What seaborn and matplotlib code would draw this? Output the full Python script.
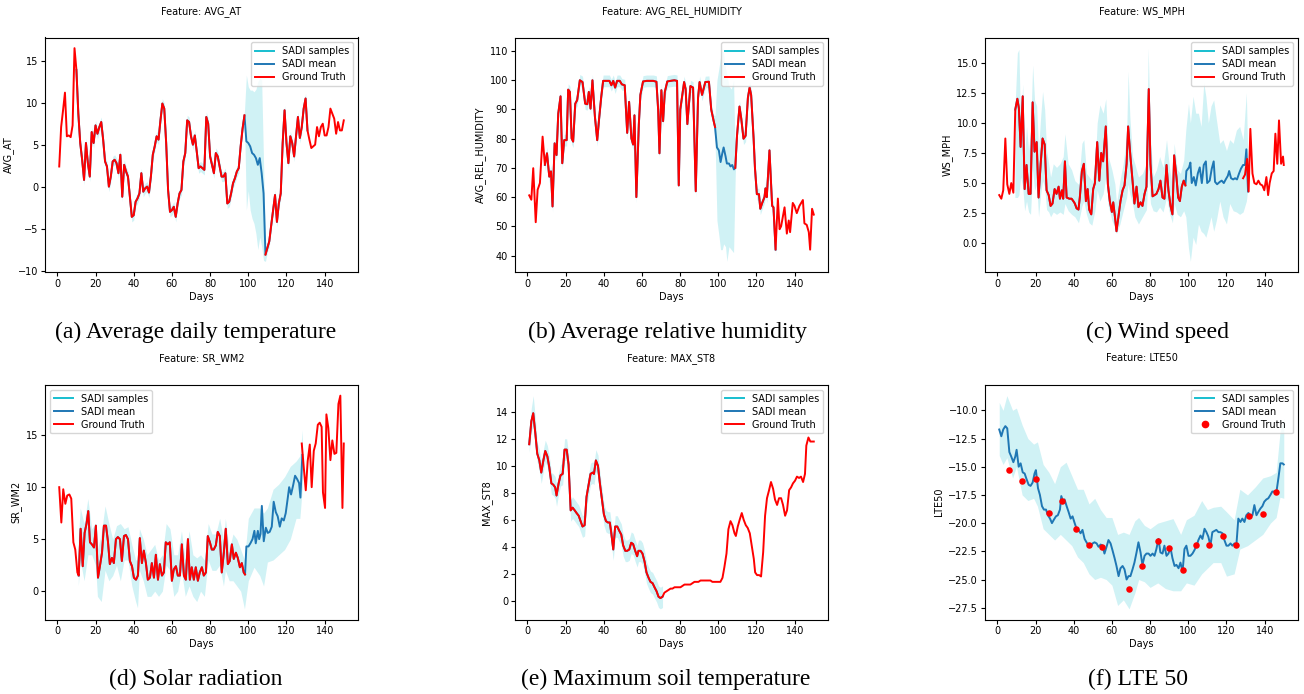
import numpy as np
import matplotlib
matplotlib.use("Agg")
import matplotlib.pyplot as plt
import seaborn as sns
from matplotlib.lines import Line2D
from matplotlib.ticker import MultipleLocator

# ---------------- data ----------------
# (a) AVG_AT
AT_DAYS_1 = list(range(1, 99))
AT_GT_1 = [2.4, 7.1, 9.1, 11.2, 6.0, 6.1, 5.9, 7.3, 16.5, 13.9,
           8.7, 5.2, 3.2, 0.8, 5.2, 2.8, 1.2, 6.5, 5.2, 7.3,
           6.3, 7.1, 7.7, 5.6, 3.0, 2.4, 0.0, 1.2, 3.0, 3.2,
           2.8, 1.6, 3.8, -1.2, 2.6, 1.8, 1.2, -1.2, -3.6, -3.4,
           -1.8, -1.4, -0.8, 1.6, -0.6, -0.2, 0.0, -0.7, 1.2, 3.8,
           4.8, 6.0, 5.6, 7.9, 9.9, 9.3, 5.2, -0.4, -3.0, -2.8,
           -2.4, -3.6, -2.0, -0.8, -0.4, 3.0, 4.0, 7.9, 7.7, 6.0,
           5.0, 6.1, 4.2, 2.2, 2.4, 2.2, 2.0, 8.3, 7.5, 3.6,
           2.6, 1.6, 4.0, 3.6, 2.4, 1.2, 1.2, 1.6, -2.0, -1.8,
           -0.8, 0.4, 1.0, 1.8, 2.2, 4.8, 6.9, 8.5]
AT_DAYS_2 = list(range(109, 151))
AT_GT_2 = [-8.1, -7.3, -6.5, -4.6, -2.8, -1.0, -4.2, -2.0, -0.8, 5.2,
           9.1, 5.2, 2.8, 6.0, 5.2, 3.6, 6.0, 8.3, 5.8, 7.1,
           9.3, 10.5, 6.7, 5.6, 4.6, 4.8, 5.0, 7.1, 6.0, 7.1,
           7.5, 6.1, 6.1, 7.1, 9.3, 8.7, 8.1, 6.3, 7.7, 6.7,
           6.7, 7.9]
AT_GAP_DAYS = list(range(99, 109))
AT_GAP_MEAN = [5.4, 5.2, 4.8, 4.0, 3.8, 3.4, 2.6, 3.4, 1.6, -0.8]
AT_BAND_DAYS = list(range(98, 111))
AT_BAND_LO = [8.0, -2.8, -0.5, -2.8, -3.8, -4.4, -5.6, -7.5, -6.0, -7.1, -8.8, -8.9, -7.8]
AT_BAND_HI = [9.0, 13.3, 11.9, 11.5, 11.5, 11.3, 11.6, 12.5, 12.9, 12.7, 2.8, -7.5, -6.8]
AT_SPREAD = 0.6

# (b) AVG_REL_HUMIDITY
RH_DAYS_1 = [1.0, 2.1, 3.1, 4.4, 5.4, 6.6, 8.0, 9.2, 10.3, 11.5,
             12.4, 13.2, 14.3, 15.3, 16.2, 17.4, 18.3, 19.3, 20.6, 21.4,
             22.3, 23.2, 24.0, 25.1, 26.1, 27.5, 28.9, 30.3, 31.4, 32.2,
             33.1, 34.1, 35.4, 36.6, 37.6, 38.7, 39.7, 41.0, 42.0, 43.0,
             44.0, 45.0, 46.0, 47.0, 48.4, 49.5, 51.0, 52.3, 53.3, 54.5,
             55.4, 56.1, 57.1, 58.4, 59.2, 60.6, 62.5, 64.5, 66.0, 67.6,
             68.5, 69.2, 70.2, 71.1, 72.0, 73.3, 75.0, 77.0, 78.4, 79.3,
             80.1, 82.1, 82.9, 83.8, 85.4, 86.8, 88.2, 89.4, 90.2, 91.5,
             93.2, 95.1, 96.3, 97.6, 98.3]
RH_GT_1 = [60.6, 59.1, 69.9, 51.4, 62.5, 64.8, 80.7, 71.0, 75.0, 67.0,
           68.8, 56.8, 78.4, 74.4, 88.6, 94.5, 71.6, 79.5, 79.5, 96.8,
           96.0, 80.1, 79.0, 92.0, 93.2, 100.0, 99.4, 92.0, 91.8, 96.0,
           90.3, 100.0, 87.5, 79.5, 86.9, 94.3, 99.8, 99.8, 99.8, 99.8,
           98.3, 99.8, 97.5, 99.8, 99.8, 98.6, 98.3, 82.0, 92.6, 80.1,
           78.0, 88.0, 60.0, 85.0, 95.0, 99.6, 99.8, 99.8, 99.8, 99.5,
           90.0, 75.0, 96.6, 86.0, 96.0, 99.6, 99.8, 100.0, 99.8, 64.0,
           90.0, 99.4, 97.0, 85.0, 98.0, 97.5, 62.0, 94.0, 99.4, 95.0,
           99.4, 99.5, 90.0, 86.0, 84.0]
RH_DAYS_2 = [108.9, 109.8, 111.1, 112.0, 113.2, 114.3, 115.5, 116.4, 117.2, 118.5,
             119.2, 120.2, 121.3, 122.0, 123.0, 124.2, 124.7, 125.4, 126.8, 128.2,
             128.9, 130.0, 131.2, 132.1, 132.9, 134.7, 135.9, 136.9, 137.6, 139.0,
             139.9, 141.1, 142.5, 144.3, 145.1, 146.3, 147.4, 148.1, 149.1, 150.0]
RH_GT_2 = [70, 81, 91, 87, 80, 81, 94, 97.5, 95, 80,
           70, 61, 61, 56, 58, 60, 63, 60, 76, 57,
           56.5, 42, 59.5, 49, 50, 56.5, 47.5, 52, 48, 58,
           57, 54.5, 57, 59, 51, 50.5, 48, 42, 56, 54]
RH_GAP_DAYS = [99.3, 100.3, 101.2, 102.1, 102.8, 103.8, 104.5, 105.6, 106.4, 107.3, 108.2]
RH_GAP_MEAN = [77, 76, 72, 75, 77, 74, 71.5, 71.5, 70.5, 71, 69.5]
RH_BAND_DAYS = [98.3, 99.3, 100.3, 101.2, 102.1, 102.8, 103.8, 104.5, 105.6, 106.8, 108.0, 108.9]
RH_BAND_LO = [80, 52, 47, 42, 42, 44, 43, 38, 43, 42, 41, 68]
RH_BAND_HI = [88, 100, 104, 108, 111, 109, 104, 102, 98, 97, 100, 71]
RH_SPREAD = 2.0

# (c) WS_MPH
WS_DAYS_1 = [1.0, 2.1, 3.1, 4.2, 5.2, 6.3, 7.3, 8.4, 9.4, 10.5,
             11.3, 12.2, 13.3, 14.3, 15.3, 16.4, 17.4, 18.5, 19.5, 20.6,
             21.6, 22.7, 23.7, 24.8, 25.8, 26.9, 27.9, 28.9, 30.0, 31.0,
             32.1, 32.8, 33.8, 34.5, 35.4, 36.3, 37.7, 38.9, 39.8, 40.6,
             41.5, 42.5, 43.2, 44.3, 45.3, 46.4, 47.3, 48.1, 49.2, 50.2,
             51.1, 52.3, 53.4, 54.4, 55.4, 56.8, 57.9, 58.9, 60.0, 60.7,
             61.6, 62.4, 63.5, 64.5, 65.6, 66.6, 67.7, 68.5, 69.7, 70.8,
             71.8, 72.9, 73.9, 75.0, 76.0, 77.1, 78.1, 79.3, 80.2, 81.3,
             82.3, 83.3, 84.4, 85.4, 86.5, 87.5, 88.6, 89.6, 90.7, 91.7,
             92.6, 93.8, 94.7, 95.6, 96.6, 97.6, 98.5]
WS_GT_1 = [4.0, 3.7, 4.4, 8.7, 4.9, 4.1, 5.0, 4.2, 11.1, 12.0,
           11.2, 8.0, 12.2, 4.5, 6.5, 4.1, 4.1, 11.7, 7.6, 8.4,
           3.8, 6.6, 8.7, 8.2, 4.4, 4.0, 3.1, 3.3, 4.5, 4.1,
           4.7, 3.7, 4.4, 3.7, 6.8, 3.8, 3.7, 3.7, 3.5, 3.3,
           2.9, 2.8, 3.8, 6.0, 6.6, 3.5, 4.5, 2.8, 2.4, 4.5,
           5.0, 8.4, 5.2, 7.5, 6.8, 9.7, 4.9, 3.5, 2.6, 3.4,
           2.2, 1.0, 2.3, 3.5, 4.4, 4.8, 6.6, 9.7, 7.2, 5.2,
           3.3, 4.7, 3.0, 3.4, 3.1, 4.1, 4.7, 12.8, 6.6, 3.9,
           4.0, 4.1, 4.5, 5.2, 3.8, 3.7, 6.5, 4.4, 3.1, 2.4,
           7.3, 5.5, 3.8, 3.5, 4.7, 5.2, 4.8]
WS_DAYS_2 = [128.7, 129.7, 130.8, 131.6, 132.5, 133.6, 134.6, 135.7, 136.7, 137.7,
             138.8, 139.8, 140.9, 141.8, 142.6, 143.7, 144.7, 145.6, 146.6, 147.5,
             148.6, 149.6, 150.0]
WS_GT_2 = [5.4, 5.7, 7.0, 4.3, 9.5, 5.8, 5.0, 4.9, 5.2, 4.9,
           4.8, 4.4, 5.5, 4.0, 5.0, 5.8, 6.0, 9.1, 6.6, 10.2,
           6.6, 7.2, 6.5]
WS_GAP_DAYS = [99.0, 100.4, 101.1, 101.8, 102.9, 103.9, 105.0, 106.0, 107.1,
               108.1, 109.2, 109.9, 111.2, 112.3, 113.3, 114.0, 115.1, 116.5, 117.5,
               118.6, 119.6, 120.7, 121.4, 122.4, 123.5, 124.5, 125.5, 126.6, 127.6,
               128.7, 129.7, 130.4, 131.3]
WS_GAP_MEAN = [6.0, 6.3, 6.7, 5.0, 5.5, 4.8, 5.8, 6.3, 5.0,
               6.5, 6.8, 5.0, 5.2, 6.2, 6.8, 5.1, 4.9, 5.1, 5.2,
               5.0, 5.3, 5.6, 6.0, 5.4, 5.3, 5.4, 5.3, 5.8, 6.2,
               6.5, 6.5, 7.8, 4.3]
WS_BAND_DAYS = [9.2, 10.5, 11.3, 12.2, 13.3, 14.3, 15.3, 16.4, 17.4, 18.5,
                19.5, 20.6, 21.6, 22.7, 23.7, 24.8, 25.8, 26.9, 27.9, 29.3,
                31.0, 32.8, 34.5, 35.4, 37.1, 38.9, 40.6, 42.5, 44.3, 45.3,
                46.7, 48.1, 49.5, 51.1, 52.3, 53.7, 55.4, 56.8, 58.1, 60.0,
                61.6, 62.4, 64.2, 65.9, 67.7, 68.5, 69.4, 70.8, 72.0, 73.9,
                76.0, 78.1, 79.0, 80.2, 81.6, 83.3, 85.0, 86.8, 88.6, 90.3,
                91.7, 92.6, 94.2, 95.9, 97.6, 98.7, 100.1, 101.1, 102.5, 103.9,
                105.3, 106.7, 108.1, 109.2, 110.5, 111.9, 113.3, 114.7, 116.5, 118.2,
                120.0, 121.7, 123.5, 125.2, 126.9, 128.7, 130.4, 131.3]
WS_BAND_HI = [11.1, 15.8, 16.1, 9.7, 13.2, 7.2, 9.7, 7.7, 9.4, 14.8,
              11.9, 11.4, 7.7, 10.5, 12.6, 11.1, 7.7, 6.6, 5.5, 6.6,
              6.3, 6.6, 7.2, 9.1, 6.6, 6.1, 5.2, 4.9, 8.3, 8.6,
              5.8, 5.5, 5.2, 6.1, 10.0, 11.5, 10.8, 12.0, 7.2, 6.1,
              4.9, 3.3, 5.2, 6.6, 8.9, 14.3, 10.5, 7.2, 6.6, 5.5,
              5.8, 6.6, 16.2, 8.6, 5.5, 6.1, 7.2, 6.3, 8.6, 6.1,
              4.7, 8.3, 6.1, 5.8, 6.9, 9.4, 11.6, 10.0, 12.2, 10.8,
              10.8, 9.7, 13.3, 12.2, 10.0, 11.4, 11.9, 10.3, 8.3, 8.6,
              7.7, 8.6, 8.3, 9.4, 9.7, 8.6, 12.5, 6.1]
WS_BAND_LO = [3.8, 3.8, 4.0, 5.5, 4.7, 2.7, 3.5, 2.6, 2.4, 6.1,
              4.4, 4.9, 2.2, 4.1, 5.2, 4.7, 2.8, 2.6, 2.2, 2.6,
              2.4, 2.6, 2.4, 3.3, 2.7, 2.4, 2.2, 1.7, 3.1, 3.5,
              2.4, 1.7, 1.5, 2.7, 4.4, 3.5, 4.1, 5.5, 3.1, 1.9,
              1.3, 0.8, 1.6, 2.7, 3.8, 4.9, 4.1, 3.3, 2.2, 1.6,
              2.2, 2.8, 6.1, 3.3, 2.7, 2.6, 3.0, 2.6, 3.8, 2.4,
              1.7, 3.3, 2.4, 2.2, 2.7, 2.2, -0.4, -1.5, 0.5, -0.1,
              1.6, 1.0, 0.8, 0.5, 1.3, 2.2, 1.0, 1.9, 3.5, 2.2,
              1.6, 3.3, 2.7, 2.6, 2.4, 2.6, 3.5, 4.7]

# (d) SR_WM2
SR_DAYS_1 = [1.0, 2.1, 3.1, 4.2, 5.2, 6.3, 7.3, 8.4, 9.4, 10.5,
             11.2, 12.2, 13.3, 14.3, 15.3, 16.2, 17.1, 18.1, 19.2, 20.2,
             21.3, 22.3, 23.4, 24.4, 25.5, 26.5, 27.5, 28.6, 29.6, 30.7,
             31.7, 32.8, 33.8, 34.9, 35.9, 37.0, 38.0, 39.1, 40.1, 41.2,
             42.2, 43.2, 44.3, 45.3, 46.4, 47.4, 48.5, 49.5, 50.6, 51.6,
             52.7, 53.7, 54.8, 55.8, 56.8, 57.9, 58.9, 60.0, 61.0, 62.1,
             63.1, 64.2, 65.2, 66.3, 67.3, 68.4, 69.4, 70.4, 71.5, 72.5,
             73.6, 74.6, 75.7, 76.7, 77.8, 78.8, 79.9, 80.9, 81.9, 83.0,
             84.0, 85.1, 86.1, 87.2, 88.2, 89.3, 90.3, 91.4, 92.4, 93.5,
             94.5, 95.6, 96.6, 97.6, 98.3]
SR_GT_1 = [10.0, 6.6, 9.8, 8.4, 9.2, 9.3, 8.9, 4.7, 4.0, 1.8,
           1.5, 6.0, 2.4, 5.6, 6.5, 7.7, 4.7, 4.5, 4.2, 6.3,
           1.3, 2.4, 3.7, 6.3, 6.3, 4.8, 2.6, 3.2, 2.7, 5.0,
           5.2, 5.0, 2.9, 5.3, 5.4, 5.0, 2.9, 2.4, 1.3, 1.1,
           1.5, 5.1, 2.7, 3.9, 2.7, 1.1, 1.3, 2.7, 1.3, 3.5,
           1.1, 2.6, 1.5, 1.8, 4.7, 4.5, 4.7, 1.0, 2.1, 2.4,
           1.5, 1.5, 4.5, 1.5, 1.1, 5.0, 1.1, 2.3, 1.1, 2.3,
           1.0, 1.8, 2.3, 1.5, 1.8, 5.3, 4.7, 4.0, 4.0, 4.4,
           5.7, 5.3, 1.8, 3.7, 6.0, 2.6, 2.9, 4.5, 3.1, 3.7,
           3.2, 2.3, 2.7, 1.8, 1.6]
SR_DAYS_2 = [128.0, 129.0, 130.1, 131.1, 132.2, 133.2, 134.3, 135.3, 136.4, 137.4,
             138.4, 139.1, 140.2, 140.9, 141.9, 143.0, 144.0, 145.1, 146.1, 147.2,
             148.2, 149.3, 150.0]
SR_GT_2 = [14.2, 12.0, 9.7, 12.5, 14.1, 10.0, 13.5, 14.2, 16.0, 16.2,
           15.8, 9.5, 8.0, 17.0, 15.7, 12.6, 14.5, 13.2, 13.3, 18.0,
           18.8, 8.0, 14.2]
SR_GAP_DAYS = [99.0, 100.1, 101.1, 102.2, 103.2, 103.9, 105.0, 105.7, 106.4, 107.1,
               108.1, 109.2, 110.2, 111.2, 112.3, 113.3, 114.4, 115.4, 116.5, 117.5,
               118.6, 119.6, 120.7, 121.4, 122.4, 123.5, 124.5, 125.5, 126.6, 127.3,
               128.3]
SR_GAP_MEAN = [4.3, 4.3, 4.6, 5.0, 5.8, 4.6, 5.8, 5.0, 5.5, 8.2,
               4.8, 6.1, 5.6, 5.7, 6.2, 8.6, 7.6, 7.2, 6.2, 7.0,
               6.8, 7.5, 9.0, 10.0, 9.3, 10.2, 11.1, 10.8, 10.4, 9.0,
               13.1]
SR_BAND_DAYS = [11, 12, 14, 16, 18, 20, 21, 23, 25, 27,
                29, 31, 33, 35, 37, 39, 41, 42, 43, 45,
                47, 49, 51, 53, 55, 57, 59, 61, 63, 65,
                67, 69, 71, 73, 75, 77, 79, 81, 83, 85,
                87, 88, 90, 92, 94, 96, 98, 100, 103, 106,
                108, 110, 113, 116, 119, 122, 125, 127, 128.3]
SR_BAND_HI = [5.0, 8.0, 6.5, 8.9, 6.0, 6.5, 4.0, 5.5, 8.2, 6.5,
              5.0, 6.3, 6.5, 6.0, 6.2, 4.5, 3.0, 3.0, 6.0, 5.0,
              3.5, 4.0, 4.5, 3.0, 3.5, 6.5, 6.0, 3.5, 3.5, 5.8,
              3.0, 5.8, 3.5, 3.2, 3.5, 3.0, 6.5, 5.5, 5.5, 7.0,
              5.0, 7.0, 4.0, 5.5, 5.0, 4.0, 3.0, 7.0, 8.0, 8.0,
              7.5, 8.0, 9.8, 10.3, 11.0, 12.0, 12.5, 13.0, 15.5]
SR_BAND_LO = [0.5, 3.0, 1.0, 3.5, 3.5, 2.5, -0.5, -1.0, 2.0, 1.0,
              1.5, 2.5, 1.0, 3.0, 3.0, 0.5, -1.0, -1.6, 2.0, 1.0,
              -0.5, -0.5, 0.0, -0.5, 0.0, 2.5, 2.0, -0.5, 0.0, 2.0,
              -0.5, 0.5, -0.5, -1.0, 0.0, -0.5, 3.0, 2.0, 2.0, 2.5,
              0.5, 2.0, 1.0, 1.0, 0.5, 0.0, -1.7, 1.0, 2.3, 1.5,
              0.5, 2.8, 3.0, 3.5, 4.0, 5.0, 7.0, 7.0, 10.0]

# (e) MAX_ST8
ST_DAYS = [1.0, 2.1, 3.1, 4.2, 5.2, 6.3, 7.3, 8.4, 9.4, 10.5,
           11.5, 12.6, 13.6, 14.6, 15.3, 16.4, 17.4, 18.5, 19.5, 20.6,
           21.6, 22.7, 23.7, 24.8, 25.8, 26.9, 27.9, 28.9, 30.0, 31.0,
           32.1, 33.1, 34.2, 34.9, 35.9, 37.0, 38.0, 39.1, 40.1, 41.2,
           42.2, 43.2, 43.9, 45.0, 46.0, 47.1, 48.1, 49.2, 50.2, 51.3,
           52.3, 53.4, 54.4, 55.4, 56.5, 57.5, 58.2, 59.3, 60.3, 61.4,
           62.4, 63.5, 64.5, 65.6, 66.6, 67.7, 68.7, 69.7, 70.8, 71.8,
           72.9, 73.9, 75.0, 76.0, 77.1, 78.1, 79.2, 80.2, 81.3, 82.3,
           83.3, 84.4, 85.4, 86.5, 87.5, 88.6, 89.6, 90.7, 91.7, 92.8,
           93.8, 94.9, 95.9, 96.9, 98.0, 99.0, 100.1, 101.1, 102.2, 103.2,
           104.3, 105.3, 106.4, 107.4, 108.5, 109.2, 110.2, 111.2, 112.3, 113.3,
           114.4, 115.4, 116.5, 117.5, 118.6, 119.3, 120.3, 121.4, 122.4, 123.5,
           124.5, 125.5, 126.6, 127.6, 128.7, 129.7, 130.8, 131.8, 132.9, 133.9,
           135.0, 136.0, 137.1, 138.1, 139.1, 140.2, 141.2, 142.3, 143.3, 144.4,
           145.4, 146.1, 147.2, 148.2, 149.3, 150.0]
ST_GT = [11.6, 13.3, 13.9, 12.4, 10.9, 10.4, 9.5, 10.4, 11.1, 10.7,
         9.9, 8.7, 8.6, 8.4, 7.8, 8.7, 9.3, 9.4, 11.2, 11.2,
         10.1, 6.7, 6.9, 6.7, 6.5, 6.3, 5.9, 5.5, 5.6, 7.7,
         8.6, 9.4, 9.5, 9.4, 10.4, 10.0, 8.7, 7.5, 6.4, 5.9,
         5.8, 5.8, 5.1, 3.8, 5.5, 5.5, 5.2, 4.9, 4.1, 3.7,
         3.7, 3.8, 4.3, 4.2, 3.7, 3.3, 3.7, 3.7, 3.5, 2.9,
         2.1, 1.7, 1.4, 1.3, 1.0, 0.7, 0.3, 0.2, 0.3, 0.6,
         0.7, 0.8, 0.9, 0.9, 1.0, 1.0, 1.0, 1.0, 1.1, 1.2,
         1.2, 1.2, 1.2, 1.3, 1.4, 1.4, 1.4, 1.5, 1.5, 1.5,
         1.5, 1.5, 1.5, 1.4, 1.4, 1.4, 1.4, 1.4, 1.7, 2.5,
         3.5, 5.3, 5.9, 5.6, 5.0, 4.8, 5.5, 6.0, 6.5, 6.0,
         5.6, 5.4, 5.0, 4.1, 3.1, 2.1, 1.9, 1.9, 1.8, 3.6,
         6.3, 7.6, 8.2, 8.8, 8.3, 7.5, 7.1, 7.6, 7.6, 7.1,
         6.3, 6.7, 8.2, 8.4, 8.7, 8.9, 9.2, 9.1, 9.2, 8.8,
         9.4, 11.5, 12.1, 11.8, 11.8, 11.8]
ST_BAND_DAYS = [1.0, 2.1, 3.1, 4.2, 5.2]
ST_BAND_LO = [11.0, 12.5, 13.0, 11.5, 10.3]
ST_BAND_HI = [12.3, 14.3, 15.2, 13.5, 11.7]
ST_SPREAD = 0.8

# (f) LTE50
LTE_MEAN_DAYS = [1.0, 2.1, 3.1, 4.2, 5.2, 6.3, 7.3, 8.4, 9.4, 10.1,
                 11.2, 12.2, 13.3, 14.3, 15.3, 16.4, 17.4, 18.5, 19.5, 20.2,
                 21.3, 22.3, 23.4, 24.4, 25.5, 26.5, 27.6, 28.6, 29.6, 30.7,
                 31.7, 32.8, 33.5, 34.5, 35.2, 36.3, 37.3, 38.4, 39.4, 40.5,
                 41.5, 42.5, 43.6, 44.6, 45.7, 46.7, 47.8, 48.8, 49.9, 50.9,
                 52.0, 53.0, 54.1, 55.1, 56.1, 57.2, 58.2, 59.3, 60.3, 61.4,
                 62.4, 63.5, 64.5, 65.6, 66.6, 67.7, 68.7, 69.7, 70.8, 71.8,
                 72.9, 73.9, 75.0, 76.0, 77.1, 78.1, 79.2, 80.2, 81.3, 82.3,
                 83.3, 84.4, 85.4, 86.5, 87.5, 88.6, 89.6, 90.7, 91.7, 92.8,
                 93.8, 94.9, 95.9, 97.0, 98.0, 99.0, 100.1, 101.1, 102.2, 103.2,
                 104.3, 105.3, 106.4, 107.4, 108.5, 109.5, 110.5, 111.6, 112.6, 113.7,
                 114.7, 115.8, 116.8, 117.9, 118.9, 120.0, 121.0, 122.1, 123.1, 124.2,
                 125.2, 126.2, 127.3, 128.3, 129.4, 130.4, 131.5, 132.5, 133.6, 134.6,
                 135.7, 136.7, 137.8, 138.8, 139.8, 140.9, 141.9, 143.0, 144.0, 145.1,
                 146.1, 147.2, 148.2, 149.3, 150.0]
LTE_MEAN = [-11.7, -12.3, -11.7, -11.4, -11.6, -13.7, -14.1, -14.6, -14.1, -13.5,
            -15.0, -14.7, -15.5, -15.6, -16.1, -16.6, -16.7, -16.4, -15.6, -15.3,
            -16.9, -17.5, -18.5, -18.8, -18.8, -19.3, -19.6, -20.0, -19.7, -19.4,
            -19.3, -18.8, -17.6, -18.1, -17.9, -18.5, -19.0, -19.6, -19.4, -20.0,
            -20.5, -20.6, -20.9, -20.6, -21.4, -21.7, -22.0, -22.1, -21.8, -21.7,
            -21.8, -22.1, -21.9, -22.0, -22.7, -22.1, -21.5, -21.8, -22.4, -23.1,
            -23.8, -24.7, -24.0, -23.8, -24.1, -25.0, -24.7, -24.7, -24.1, -23.5,
            -22.6, -21.7, -22.6, -23.7, -22.9, -22.7, -22.7, -22.9, -22.7, -22.9,
            -22.3, -21.4, -22.6, -22.7, -22.0, -22.9, -22.7, -22.2, -23.1, -23.8,
            -23.7, -24.0, -23.5, -24.3, -22.3, -22.0, -22.9, -22.9, -22.7, -22.4,
            -22.0, -21.5, -21.1, -21.4, -20.5, -20.8, -21.2, -22.0, -20.8, -20.7,
            -20.6, -20.8, -20.8, -20.9, -21.5, -22.0, -22.0, -21.8, -22.0, -21.8,
            -21.9, -19.6, -19.9, -19.6, -19.9, -19.3, -19.1, -19.4, -19.3, -18.4,
            -19.3, -19.0, -18.7, -18.5, -18.1, -17.9, -17.8, -17.5, -17.2, -17.2,
            -17.3, -16.0, -14.7, -14.7, -14.8]
LTE_BAND_DAYS = [1, 3, 5, 8, 10, 13, 16, 19, 21, 24,
                 27, 30, 33, 36, 39, 42, 45, 48, 51, 54,
                 57, 60, 63, 66, 69, 72, 74, 77, 80, 84,
                 88, 92, 96, 99, 103, 107, 110, 113, 117, 120,
                 124, 127, 131, 135, 139, 143, 146, 148, 150]
LTE_BAND_HI = [-9.3, -10.0, -8.7, -10.0, -9.8, -11.3, -12.5, -13.0, -12.8, -14.8,
               -15.5, -16.5, -15.0, -14.6, -15.8, -17.0, -17.0, -18.3, -17.8, -18.8,
               -19.5, -19.5, -21.0, -20.8, -21.0, -19.8, -19.5, -20.2, -20.5, -20.0,
               -19.8, -19.6, -21.0, -19.7, -19.3, -18.0, -18.8, -18.6, -18.5, -19.0,
               -19.7, -17.0, -17.5, -16.8, -16.0, -15.8, -15.5, -12.0, -10.7]
LTE_BAND_LO = [-14.0, -14.8, -14.2, -16.0, -15.0, -17.5, -18.0, -17.8, -18.5, -20.5,
               -21.0, -21.5, -21.0, -21.5, -22.0, -23.0, -23.5, -24.5, -25.0, -24.8,
               -25.0, -25.5, -27.3, -26.8, -27.6, -26.2, -25.0, -25.2, -25.7, -25.3,
               -25.8, -26.0, -26.0, -25.3, -25.5, -24.5, -24.0, -23.5, -23.5, -24.7,
               -24.5, -22.3, -22.0, -21.5, -21.0, -20.0, -19.5, -17.7, -17.8]
LTE_GT_DAYS = [6, 13, 20, 27, 34, 41, 48, 55, 69, 76, 84, 90, 97, 104, 111, 118, 125, 132, 139, 146]
LTE_GT = [-15.3, -16.3, -16.1, -19.1, -18.0, -20.5, -21.9, -22.1, -25.8, -23.8,
          -21.6, -22.2, -24.2, -21.9, -21.9, -21.1, -21.9, -19.4, -19.2, -17.2]

FEATURES = ["AVG_AT", "AVG_REL_HUMIDITY", "WS_MPH", "SR_WM2", "MAX_ST8", "LTE50"]
CAPTIONS = ["(a) Average daily temperature", "(b) Average relative humidity", "(c) Wind speed",
            "(d) Solar radiation", "(e) Maximum soil temperature", "(f) LTE 50"]


# ---------------- helpers ----------------
def observed(parts, start, end, gap_days):
    d = np.concatenate([np.asarray(p[0], float) for p in parts])
    v = np.concatenate([np.asarray(p[1], float) for p in parts])
    keep = (d >= start) & (d <= end)
    if len(gap_days):
        g = np.asarray(gap_days, float)
        keep &= (d < g.min()) | (d > g.max())
    return d[keep], v[keep]


def merge(d1, v1, d2, v2):
    d = np.concatenate([d1, np.asarray(d2, float)])
    v = np.concatenate([v1, np.asarray(v2, float)])
    o = np.argsort(d, kind="stable")
    return d[o], v[o]


def mean_line(parts, start, end, gap_days, gap_mean):
    d, v = observed(parts, start, end, gap_days)
    return merge(d, v, gap_days, gap_mean)


def spread_band(parts, start, end, spread, gap_days, gap_lo, gap_hi):
    d, v = observed(parts, start, end, gap_days)
    bd, lo = merge(d, v - spread, gap_days, gap_lo)
    _, hi = merge(d, v + spread, gap_days, gap_hi)
    return bd, lo, hi


CYAN, BLUE, RED = "tab:cyan", "tab:blue", "red"
LW = 1.4


def draw(ax, band, mean, gt_parts, feature, ylabel, legend_loc, ystep, dots=None):
    ax.fill_between(band[0], band[1], band[2], color=CYAN, alpha=0.2, lw=0)
    sns.lineplot(x=mean[0], y=mean[1], ax=ax, color=BLUE, lw=LW, estimator=None, sort=False)
    for days, vals in gt_parts:
        sns.lineplot(x=days, y=vals, ax=ax, color=RED, lw=LW, estimator=None, sort=False)
    if dots is not None:
        sns.scatterplot(x=dots[0], y=dots[1], ax=ax, color=RED, s=22, edgecolor=RED, linewidth=0, zorder=3)
    ax.set_title(f"Feature: {feature}", fontsize=7, pad=17)
    ax.set_xlabel("Days", fontsize=7, labelpad=2)
    ax.set_ylabel(ylabel, fontsize=7, labelpad=3)
    ax.xaxis.set_major_locator(MultipleLocator(20))
    ax.yaxis.set_major_locator(MultipleLocator(ystep))
    ax.tick_params(labelsize=7, length=3, width=0.8, pad=2)
    for s in ax.spines.values():
        s.set_linewidth(0.8)
    gt_handle = (Line2D([], [], marker="o", ls="none", color=RED, markersize=4.5) if dots is not None
                 else Line2D([], [], color=RED, lw=LW))
    handles = [Line2D([], [], color=CYAN, lw=LW), Line2D([], [], color=BLUE, lw=LW), gt_handle]
    ax.legend(handles, ["SADI samples", "SADI mean", "Ground Truth"], loc=legend_loc,
              fontsize=7, handlelength=2.0, borderpad=0.4, labelspacing=0.3, framealpha=0.8)


# ---------------- figure ----------------
W, H = 1304, 694
fig = plt.figure(figsize=(W / 100, H / 100), dpi=100)
lefts = [45, 515, 985]
tops = [37.5, 385]
aw, ah = 313, 234.5


def make_ax(r, c):
    return fig.add_axes([lefts[c] / W, (H - tops[r] - ah) / H, aw / W, ah / H])


# (a)
at_parts = [(AT_DAYS_1, AT_GT_1), (AT_DAYS_2, AT_GT_2)]
draw(make_ax(0, 0),
     spread_band(at_parts, 10, 131, AT_SPREAD, AT_BAND_DAYS, AT_BAND_LO, AT_BAND_HI),
     mean_line(at_parts, 10, 131, AT_GAP_DAYS, AT_GAP_MEAN),
     at_parts, FEATURES[0], "AVG_AT", "upper right", 5)

# (b)
rh_parts = [(RH_DAYS_1, RH_GT_1), (RH_DAYS_2, RH_GT_2)]
draw(make_ax(0, 1),
     spread_band(rh_parts, 9, 131, RH_SPREAD, RH_BAND_DAYS, RH_BAND_LO, RH_BAND_HI),
     mean_line(rh_parts, 9, 131, RH_GAP_DAYS, RH_GAP_MEAN),
     rh_parts, FEATURES[1], "AVG_REL_HUMIDITY", "upper right", 10)

# (c)
ws_parts = [(WS_DAYS_1, WS_GT_1), (WS_DAYS_2, WS_GT_2)]
draw(make_ax(0, 2),
     (WS_BAND_DAYS, WS_BAND_LO, WS_BAND_HI),
     mean_line([ws_parts[0]], 9, 131, WS_GAP_DAYS, WS_GAP_MEAN),
     ws_parts, FEATURES[2], "WS_MPH", "upper right", 2.5)

# (d)
sr_parts = [(SR_DAYS_1, SR_GT_1), (SR_DAYS_2, SR_GT_2)]
draw(make_ax(1, 0),
     (SR_BAND_DAYS, SR_BAND_LO, SR_BAND_HI),
     mean_line([sr_parts[0]], 11, 128, SR_GAP_DAYS, SR_GAP_MEAN),
     sr_parts, FEATURES[3], "SR_WM2", "upper left", 5)

# (e)
st_parts = [(ST_DAYS, ST_GT)]
draw(make_ax(1, 1),
     spread_band(st_parts, 1, 71, ST_SPREAD, ST_BAND_DAYS, ST_BAND_LO, ST_BAND_HI),
     mean_line(st_parts, 1, 71, [], []),
     st_parts, FEATURES[4], "MAX_ST8", "upper right", 2)

# (f)
draw(make_ax(1, 2),
     (LTE_BAND_DAYS, LTE_BAND_LO, LTE_BAND_HI),
     (LTE_MEAN_DAYS, LTE_MEAN),
     [], FEATURES[5], "LTE50", "upper right", 2.5, dots=(LTE_GT_DAYS, LTE_GT))

# sub-figure captions
cap_x = [196, 667, 1158, 196, 666, 1138]
cap_y = [332, 332, 332, 679, 679, 679]
for text, x, y in zip(CAPTIONS, cap_x, cap_y):
    fig.text(x / W, 1 - y / H, text, ha="center", va="center",
             family=["Liberation Serif", "DejaVu Serif"], fontsize=17)

fig.savefig("out.png", dpi=100)
